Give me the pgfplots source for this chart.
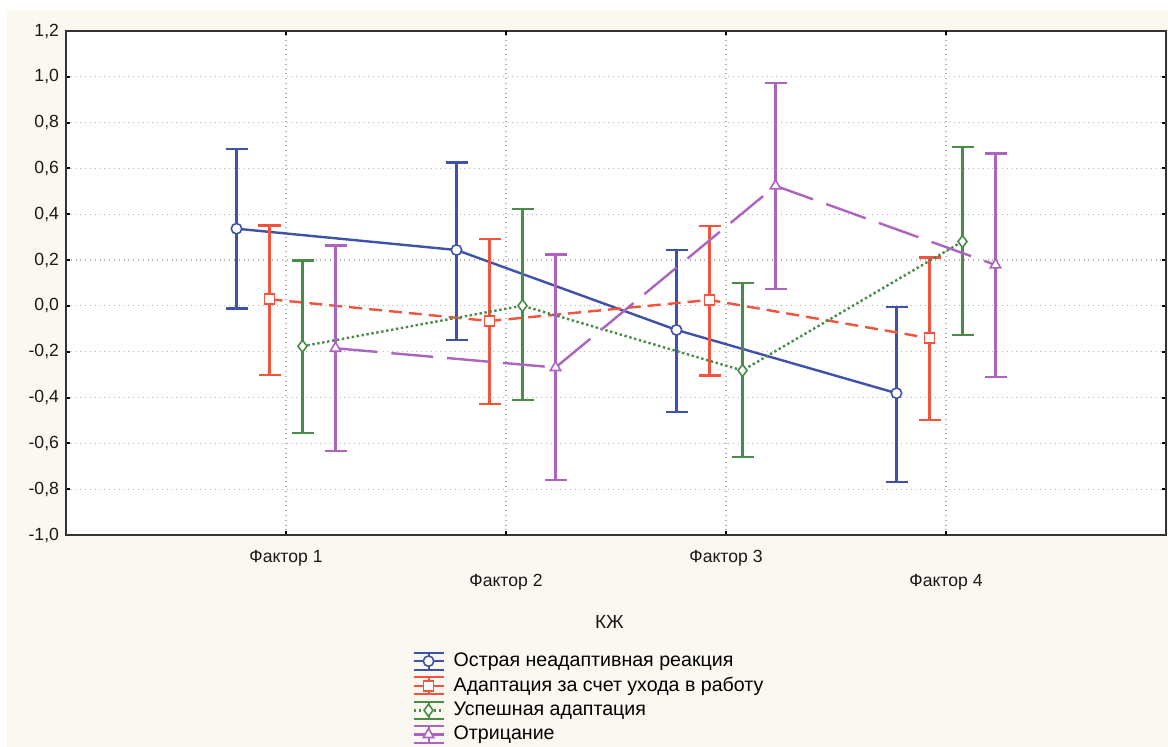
\documentclass[border=0pt]{standalone}
\usepackage{fontspec}
\setmainfont{Liberation Sans}
\usepackage{pgfplots}
\pgfplotsset{compat=1.18}

\definecolor{cblue}{RGB}{62,82,172}
\definecolor{cred}{RGB}{244,84,62}
\definecolor{cgreen}{RGB}{72,140,72}
\definecolor{cpurple}{RGB}{172,100,192}
\definecolor{bgc}{RGB}{250,248,241}

\pgfplotsset{
  errlegend/.style={
    legend image code/.code={
      \draw[##1, solid, mark=none, line width=1pt] (0pt,4.3pt)--(15pt,4.3pt) (0pt,-4.3pt)--(15pt,-4.3pt) (7.5pt,-4.3pt)--(7.5pt,4.3pt);
      \draw[mark repeat=2,mark phase=2,##1] plot coordinates {(0pt,0pt)(7.5pt,0pt)(15pt,0pt)};
    }
  },
  ebars/.style={
    error bars/.cd, y dir=both, y explicit,
    error bar style={solid, line width=1.2pt},
    error mark options={solid, line width=1.2pt, mark size=5.5pt, rotate=90}
  }
}

\begin{document}
\begin{tikzpicture}
\fill[white] (0,0) rectangle (584pt,373.5pt);
\fill[bgc] (3.5pt,0) rectangle (584pt,368.5pt);
\begin{axis}[
  at={(33pt,106pt)}, anchor=south west,
  scale only axis, width=550pt, height=252pt,
  xmin=0, xmax=5, ymin=-1, ymax=1.2,
  axis background/.style={fill=white},
  xtick={1,3}, xticklabels={Фактор 1, Фактор 3},
  extra x ticks={2,4}, extra x tick labels={Фактор 2, Фактор 4},
  extra x tick style={grid=major, xticklabel style={yshift=-12pt}},
  ytick={-1,-0.8,-0.6,-0.4,-0.2,0,0.2,0.4,0.6,0.8,1,1.2},
  yticklabel style={/pgf/number format/.cd, use comma, fixed, fixed zerofill, precision=1, assume math mode=true},
  ticklabel style={font=\fontsize{8.8}{10}\selectfont, text=black!90},
  xticklabel style={yshift=-4pt},
  tick align=inside, major tick length=2pt,
  tick style={black, line width=1pt},
  grid=major, grid style={dotted, black!30, line width=0.6pt},
  axis line style={black!80, line width=1.2pt},
  legend style={at={(0.3145,-0.227)}, anchor=north west, draw=none, fill=none,
    font=\fontsize{9.8}{11}\selectfont, row sep=0.8pt, column sep=3pt, inner sep=0pt,
    nodes={inner sep=1.5pt}},
  legend cell align=left,
  clip=false,
]
\addplot[cblue, line width=1.2pt, mark=*, mark size=2.6pt, mark options={fill=white, solid, line width=0.8pt}, errlegend, ebars]
 coordinates {
 (0.775,0.337) += (0,0.348) -= (0,0.349)
 (1.775,0.244) += (0,0.382) -= (0,0.392)
 (2.775,-0.105) += (0,0.349) -= (0,0.358)
 (3.775,-0.381) += (0,0.375) -= (0,0.387)
 };
\addlegendentry{Острая неадаптивная реакция}
\addplot[cred, line width=1.2pt, dash pattern=on 6.5pt off 3.5pt, mark=square*, mark size=2.5pt, mark options={fill=white, solid, line width=0.8pt}, errlegend, ebars]
 coordinates {
 (0.925,0.029) += (0,0.322) -= (0,0.330)
 (1.925,-0.066) += (0,0.357) -= (0,0.363)
 (2.925,0.026) += (0,0.323) -= (0,0.329)
 (3.925,-0.141) += (0,0.352) -= (0,0.357)
 };
\addlegendentry{Адаптация за счет ухода в работу}
\addplot[cgreen, line width=1.2pt, dash pattern=on 1.2pt off 1.3pt, mark=diamond*, mark size=3pt, mark options={fill=white, solid, line width=0.8pt}, errlegend, ebars]
 coordinates {
 (1.075,-0.176) += (0,0.375) -= (0,0.380)
 (2.075,0.001) += (0,0.421) -= (0,0.412)
 (3.075,-0.282) += (0,0.381) -= (0,0.377)
 (4.075,0.281) += (0,0.412) -= (0,0.409)
 };
\addlegendentry{Успешная адаптация}
\addplot[cpurple, line width=1.2pt, dash pattern=on 21pt off 7pt, mark=triangle*, mark size=3pt, mark options={fill=white, solid, line width=0.8pt}, errlegend, ebars]
 coordinates {
 (1.225,-0.185) += (0,0.448) -= (0,0.448)
 (2.225,-0.269) += (0,0.493) -= (0,0.490)
 (3.225,0.524) += (0,0.449) -= (0,0.451)
 (4.225,0.179) += (0,0.487) -= (0,0.490)
 };
\addlegendentry{Отрицание}
\node[font=\fontsize{9.5}{11}\selectfont, text=black!90] at (axis description cs:0.494,-0.173) {КЖ};
\end{axis}
\pgfresetboundingbox
\path[use as bounding box] (0,0) rectangle (584pt,373.5pt);
\end{tikzpicture}
\end{document}
